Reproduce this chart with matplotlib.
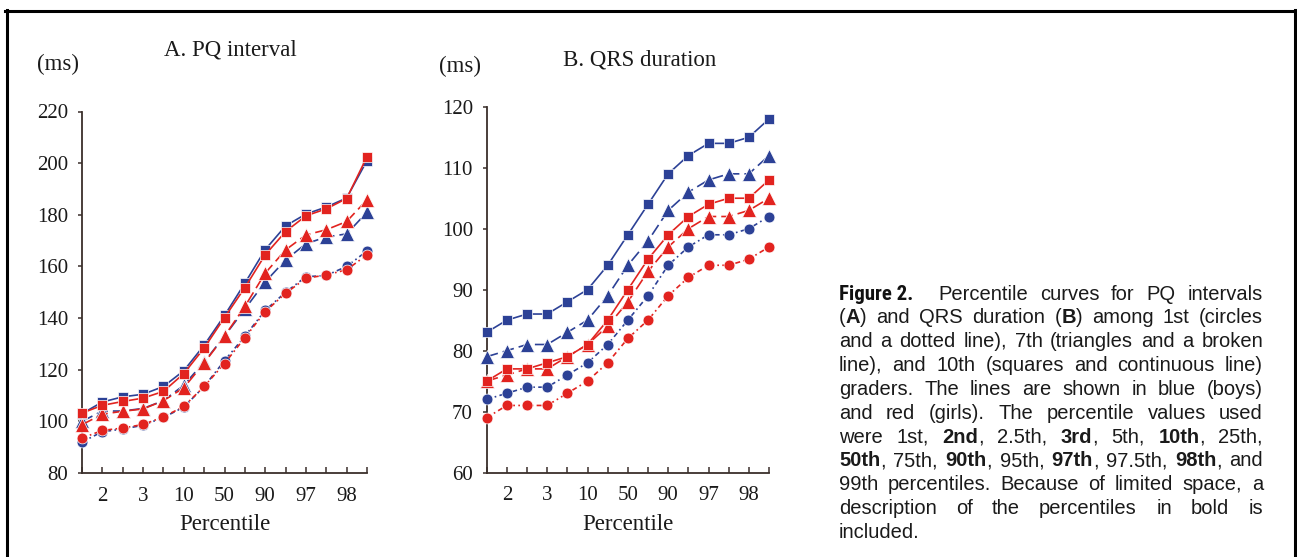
import matplotlib
matplotlib.use('Agg')
import matplotlib.pyplot as plt
from matplotlib import font_manager
from matplotlib.lines import Line2D
import numpy as np

# percentile points along the x axis (only some are labelled)
percentiles = ['1', '2', '2.5', '3', '5', '10', '25', '50', '75', '90', '95', '97', '97.5', '98', '99']
shown_labels = ['2', '3', '10', '50', '90', '97', '98']

# A. PQ interval (ms)
pq_boys_1st = [92, 96, 97, 98.5, 101.5, 105.5, 113.5, 123.5, 133, 143, 150, 156, 156.5, 160, 166]
pq_girls_1st = [93.5, 96.5, 97.4, 98.8, 101.7, 105.8, 113.5, 122.4, 132.4, 142.5, 149.6, 155.4, 156.7, 158.7, 164.5]
pq_boys_7th = [100, 104, 104, 105, 108, 114, 123, 133, 143.5, 154, 162.5, 168.8, 171.4, 172.6, 181]
pq_girls_7th = [98.7, 102.8, 103.9, 104.8, 108, 113, 122.6, 133, 144.5, 157.4, 166.4, 172.2, 174.2, 177.4, 185.8]
pq_boys_10th = [103, 107.5, 109.5, 110.5, 113.5, 119.6, 129.5, 141, 153.5, 166.5, 175.7, 180.3, 183, 186.5, 201]
pq_girls_10th = [103.2, 106.2, 107.7, 109, 111.6, 118.5, 128.4, 140.2, 151.8, 164.5, 173.5, 179.6, 182.3, 186.3, 202.5]

# B. QRS duration (ms)
qrs_boys_1st = [72, 73, 74, 74, 76, 78, 81, 85, 89, 94, 97, 99, 99, 100, 102]
qrs_girls_1st = [69, 71, 71, 71, 73, 75, 78, 82, 85, 89, 92, 94, 94, 95, 97]
qrs_boys_7th = [79, 80, 81, 81, 83, 85, 89, 94, 98, 103, 106, 108, 109, 109, 112]
qrs_girls_7th = [75, 76, 77, 77, 79, 81, 84, 88, 93, 97, 100, 102, 102, 103, 105]
qrs_boys_10th = [83, 85, 86, 86, 88, 90, 94, 99, 104, 109, 112, 114, 114, 115, 118]
qrs_girls_10th = [75, 77, 77, 78, 79, 81, 85, 90, 95, 99, 102, 104, 105, 105, 108]

caption_lines = [
    "(**A**) and QRS duration (**B**) among 1st (circles",
    "and a dotted line), 7th (triangles and a broken",
    "line), and 10th (squares and continuous line)",
    "graders. The lines are shown in blue (boys)",
    "and red (girls). The percentile values used",
    "were 1st, **2nd**, 2.5th, **3rd**, 5th, **10th**, 25th,",
    "**50th**, 75th, **90th**, 95th, **97th**, 97.5th, **98th**, and",
    "99th percentiles. Because of limited space, a",
    "description of the percentiles in bold is",
    "included.",
]

BLUE = '#2c4196'
RED = '#e2231f'
AXIS = '#3a2f2b'
SERIF = 'Liberation Serif'

W, H = 1297, 557
fig = plt.figure(figsize=(W / 100, H / 100), dpi=100)


def fx(px):
    return px / W


def fy(py):
    return 1 - py / H


def draw_panel(ax, boys, girls, ylim, yticks):
    x = np.arange(len(percentiles))
    styles = [('o', (0, (3, 2, 1, 2)), 7.8), ('^', (0, (7, 3)), 9.4), ('s', '-', 7.8)]
    for color, group in ((BLUE, boys), (RED, girls)):
        for vals, (mk, ls, ms) in zip(group, styles):
            ax.plot(x, vals, color=color, marker=mk, linestyle=ls, lw=1.2, ms=ms,
                    mec='white', mew=0.5, clip_on=False, zorder=3)
    ax.set_xlim(0, len(percentiles) - 1)
    ax.set_ylim(*ylim)
    ax.set_yticks(yticks)
    ax.set_xticks(x, [p if p in shown_labels else '' for p in percentiles])
    for s in ('top', 'right'):
        ax.spines[s].set_visible(False)
    for s in ('left', 'bottom'):
        ax.spines[s].set_color(AXIS)
        ax.spines[s].set_linewidth(1.3)
    ax.tick_params(axis='x', direction='in', length=4, width=1.1, color=AXIS, pad=10)
    ax.tick_params(axis='y', direction='out', length=3, width=1.1, color=AXIS, pad=7)
    for lab in ax.get_xticklabels() + ax.get_yticklabels():
        lab.set_fontfamily(SERIF)
        lab.set_fontsize(15)
        lab.set_color('#1a1a1a')


axA = fig.add_axes([fx(82), fy(473), (367 - 82) / W, (473 - 111.5) / H])
draw_panel(axA, [pq_boys_1st, pq_boys_7th, pq_boys_10th],
           [pq_girls_1st, pq_girls_7th, pq_girls_10th], (80, 220), range(80, 221, 20))

axB = fig.add_axes([fx(486.7), fy(472.5), (769 - 486.7) / W, (472.5 - 106.8) / H])
draw_panel(axB, [qrs_boys_1st, qrs_boys_7th, qrs_boys_10th],
           [qrs_girls_1st, qrs_girls_7th, qrs_girls_10th], (60, 120), range(60, 121, 10))

# titles and axis captions
txt = dict(family=SERIF, fontsize=16.5, ha='center', va='center', color='#1a1a1a')
fig.text(fx(58), fy(64), '(ms)', **txt)
fig.text(fx(230), fy(50), 'A. PQ interval', **txt)
fig.text(fx(460), fy(66), '(ms)', **txt)
fig.text(fx(640), fy(60), 'B. QRS duration', **txt)
fig.text(fx(224.5), fy(525), 'Percentile', **txt)
fig.text(fx(628), fy(525), 'Percentile', **txt)

# frame around the figure
for xs, ys in (([5, 1297], [10.5, 10.5]), ([6.5, 6.5], [10, 557]), ([1294.5, 1294.5], [10, 557])):
    fig.add_artist(Line2D([fx(v) for v in xs], [fy(v) for v in ys], color='black', lw=2.2))

# caption: justified text
renderer = fig.canvas.get_renderer()
SANS = 'Liberation Sans'
cap_size = 14.5
left, right = 839, 1263
base0, step = 299.5, 23.85


def pick_font(names):
    for n in names:
        try:
            font_manager.findfont(font_manager.FontProperties(family=n), fallback_to_default=False)
            return n
        except ValueError:
            continue
    return SANS


def parse_words(line):
    words = []
    for w in line.split(' '):
        segs = []
        for i, part in enumerate(w.split('**')):
            if part:
                segs.append((part, i % 2 == 1))
        words.append(segs)
    return words


def place_line(words, y, x0, x1, justify=True):
    items = []
    total = 0
    for segs in words:
        arts = []
        ww = 0
        for s, bold in segs:
            t = fig.text(0, fy(y), s, family=SANS, fontsize=cap_size, color='#1a1a1a',
                         weight='bold' if bold else 'normal', va='baseline', ha='left')
            w = t.get_window_extent(renderer).width
            arts.append((t, w))
            ww += w
        items.append(arts)
        total += ww
    if justify and len(items) > 1:
        gap = (x1 - x0 - total) / (len(items) - 1)
    else:
        gap = 0.278 * cap_size * 100 / 72
    x = x0
    for arts in items:
        for t, w in arts:
            t.set_x(fx(x))
            x += w
        x += gap


fig_font = pick_font(['Liberation Sans Narrow', 'DejaVu Sans Condensed', 'Roboto Condensed'])
fig.text(fx(left), fy(base0), 'Figure 2.', family=fig_font, fontsize=cap_size + 0.5,
         weight='heavy', va='baseline', ha='left', color='#111111')
place_line(parse_words("Percentile curves for PQ intervals"), base0, 938, right)
for i, line in enumerate(caption_lines):
    last = i == len(caption_lines) - 1
    place_line(parse_words(line), base0 + step * (i + 1), left, right, justify=not last)

fig.savefig('out.png', dpi=100)
